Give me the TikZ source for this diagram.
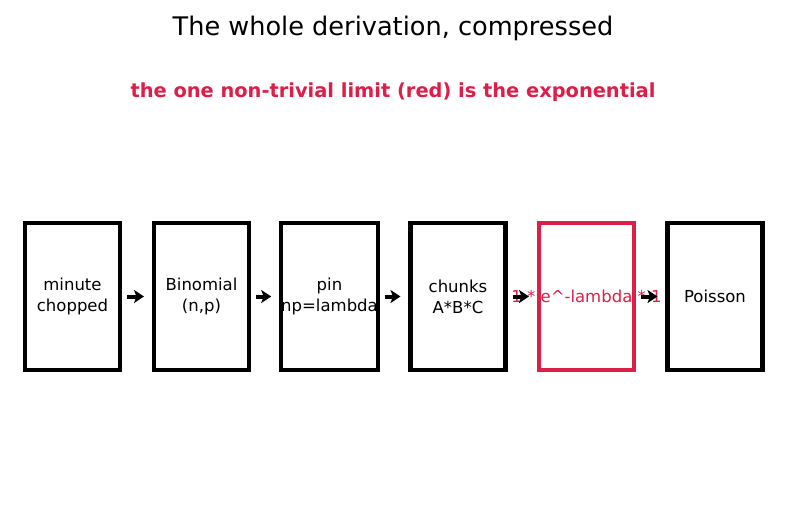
\documentclass[tikz,border=0pt]{standalone}
\usepackage{fontspec}
\setmainfont{DejaVu Sans}
\usetikzlibrary{arrows.meta}
\definecolor{hired}{RGB}{220,30,72}
\begin{document}
\begin{tikzpicture}[x=1pt,y=-1pt,
  stagebox/.style={draw=black,line width=4.5pt,minimum width=95pt,minimum height=147pt,inner sep=0pt,outer sep=0pt,align=center,font=\fontsize{16.5}{21}\selectfont},
  flowarrow/.style={line width=4pt,-{Stealth[length=10pt,width=13pt,inset=2.5pt]},shorten <=7pt,shorten >=10pt}]
\useasboundingbox (0,0) rectangle (787,512);
\node[font=\fontsize{25.6}{30}\selectfont] (title) at (393,28) {The whole derivation, compressed};
\node[font=\fontsize{19.4}{22}\selectfont\bfseries,text=hired] (sub) at (393,92) {the one non-trivial limit (red) is the exponential};
\node[stagebox] (b1) at (72.5,296.5) {minute\\chopped};
\node[stagebox] (b2) at (201.5,296.5) {Binomial\\(n,p)};
\node[stagebox] (b3) at (329.5,296.5) {pin\\np=lambda};
\node[stagebox] (b4) at (458,296.5) {chunks\\A*B*C};
\node[stagebox,draw=hired,text=hired] (b5) at (586.5,296.5) {\makebox[0pt]{1 * e\^{}-lambda * 1}};
\node[stagebox] (b6) at (715,296.5) {Poisson};
\draw[flowarrow] (b1) -- (b2);
\draw[flowarrow] (b2) -- (b3);
\draw[flowarrow] (b3) -- (b4);
\draw[flowarrow] (b4) -- (b5);
\draw[flowarrow] (b5) -- (b6);
\end{tikzpicture}
\end{document}
